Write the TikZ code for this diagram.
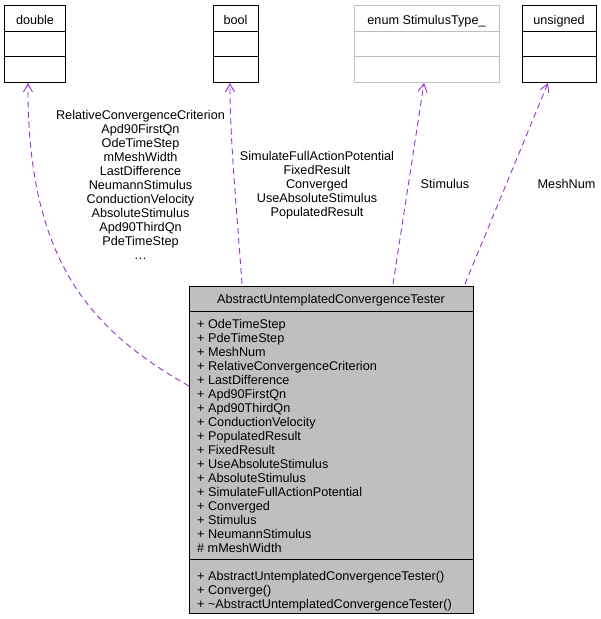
\documentclass[tikz,border=0pt]{standalone}
\usepackage{fontspec}
\setmainfont{Liberation Sans}
\usetikzlibrary{arrows.meta}
\definecolor{edgecol}{RGB}{154,50,205}
\definecolor{boxgray}{RGB}{191,191,191}
\definecolor{enumgray}{RGB}{191,191,191}
\tikzset{
  txt/.style={inner sep=0pt, font=\fontsize{12.7}{14}\selectfont},
  lbl/.style={txt, anchor=base},
  mem/.style={txt, anchor=base west},
  typebox/.style={draw=black, line width=1bp, inner sep=0pt},
  dep/.style={draw=edgecol, line width=0.9bp, dash pattern=on 6bp off 4bp, -{Straight Barb[length=8bp,width=9bp,line width=0.9bp]}},
}
\begin{document}
\begin{tikzpicture}[x=1bp,y=-1bp]
\useasboundingbox (0,0) rectangle (601,619);
% top boxes
\node[typebox, minimum width=60bp, minimum height=77bp] (dbl) at (35,44.5) {};
\draw[line width=1bp] (5,32) -- (65,32) (5,57) -- (65,57);
\node[lbl] (dblt) at (35,24.5) {double};

\node[typebox, minimum width=45bp, minimum height=77bp] (bool) at (235.5,44.5) {};
\draw[line width=1bp] (213,32) -- (258,32) (213,57) -- (258,57);
\node[lbl] (boolt) at (235.5,24.5) {bool};

\node[typebox, draw=enumgray, minimum width=145bp, minimum height=77bp] (enum) at (426.5,44.5) {};
\draw[line width=1bp, enumgray] (354,32) -- (499,32) (354,57) -- (499,57);
\node[lbl] (enumt) at (426.5,24.5) {enum StimulusType\_};

\node[typebox, minimum width=74bp, minimum height=77bp] (uns) at (559,44.5) {};
\draw[line width=1bp] (522,32) -- (596,32) (522,57) -- (596,57);
\node[lbl] (unst) at (559,24.5) {unsigned};

% main box
\node[typebox, fill=boxgray, minimum width=284bp, minimum height=327bp] (main) at (331,449.5) {};
\draw[line width=1bp] (189,311) -- (473,311) (189,559) -- (473,559);
\node[lbl] (title) at (331,303.5) {AbstractUntemplatedConvergenceTester};
\foreach \t [count=\i from 0] in {+ OdeTimeStep,+ PdeTimeStep,+ MeshNum,+ RelativeConvergenceCriterion,+ LastDifference,+ Apd90FirstQn,+ Apd90ThirdQn,+ ConductionVelocity,+ PopulatedResult,+ FixedResult,+ UseAbsoluteStimulus,+ AbsoluteStimulus,+ SimulateFullActionPotential,+ Converged,+ Stimulus,+ NeumannStimulus,\# mMeshWidth}
  \node[mem] (attr\i) at (197,328.5+14*\i) {\t};
\foreach \t [count=\i from 0] in {+ AbstractUntemplatedConvergenceTester(),+ Converge(),+ \textasciitilde AbstractUntemplatedConvergenceTester()}
  \node[mem] (meth\i) at (197,580.5+14*\i) {\t};

% edges
\coordinate (e1s) at (189,386);
\coordinate (e1t) at (28,83);
\draw[dep] (e1s) .. controls (90,330) and (27,260) .. (e1t);
\coordinate (e2s) at (242,284);
\coordinate (e2t) at (230,83);
\draw[dep] (e2s) .. controls (236,200) and (230,140) .. (e2t);
\coordinate (e3s) at (393,284);
\coordinate (e3t) at (424,83);
\draw[dep] (e3s) -- (e3t);
\coordinate (e4s) at (465,284);
\coordinate (e4t) at (548,83);
\draw[dep] (e4s) -- (e4t);

% edge labels
\foreach \t [count=\i from 0] in {RelativeConvergenceCriterion,Apd90FirstQn,OdeTimeStep,mMeshWidth,LastDifference,NeumannStimulus,ConductionVelocity,AbsoluteStimulus,Apd90ThirdQn,PdeTimeStep}
  \node[lbl] (la\i) at (140.5,119.5+14*\i) {\t};
\node[lbl] (la10) at (140.5,259.5) {.\kern0.5pt.\kern0.5pt.};
\foreach \t [count=\i from 0] in {SimulateFullActionPotential,FixedResult,Converged,UseAbsoluteStimulus,PopulatedResult}
  \node[lbl] (lb\i) at (317,160.5+14*\i) {\t};
\node[lbl] (lc) at (445,188.5) {Stimulus};
\node[lbl] (ld) at (566.5,188.5) {MeshNum};
\end{tikzpicture}
\end{document}
